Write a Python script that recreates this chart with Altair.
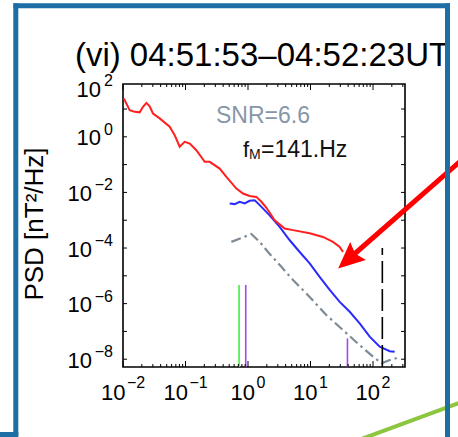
import altair as alt
import pandas as pd

# ---- spectra: frequency [Hz], power spectral density [nT^2/Hz] ----
red_freq = [0.0103, 0.0128, 0.0154, 0.0185, 0.0209, 0.0237, 0.0267, 0.0302, 0.0386,
            0.0558, 0.0671, 0.0807, 0.097, 0.117, 0.149, 0.203, 0.244, 0.352, 0.451,
            0.652, 0.832, 1.06, 1.36, 1.64, 1.97, 2.67, 3.86, 5.25, 9.7, 15.8, 22.9,
            29.3, 33.1]
red_psd = [24.0, 9.1, 7.9, 7.6, 12.0, 16.6, 12.6, 6.9, 4.6,
           2.3, 1.15, 0.44, 0.66, 0.575, 0.33, 0.126, 0.126, 0.072, 0.036,
           0.0138, 0.0091, 0.0074, 0.0069, 0.0046, 0.0028, 1.0e-3, 5.0e-4, 4.4e-4,
           3.4e-4, 2.5e-4, 1.66e-4, 1.1e-4, 7.2e-5]

blue_freq = [0.509, 0.612, 0.736, 0.885, 1.06, 1.28, 1.54, 2.22, 3.21, 4.65, 6.71,
             9.7, 14.0, 20.3, 29.3, 42.4, 61.2, 88.5, 128.0, 185.0, 222.0]
blue_psd = [4.0e-3, 3.8e-3, 4.6e-3, 4.0e-3, 5.0e-3, 5.2e-3, 3.5e-3, 1.5e-3, 5.8e-4,
            1.9e-4, 7.2e-5, 2.8e-5, 9.1e-6, 3.1e-6, 1.15e-6, 5.1e-7, 1.95e-7, 6.5e-8,
            2.8e-8, 1.95e-8, 1.86e-8]

gray_freq = [0.542, 0.832, 1.13, 1.54, 2.09, 3.42, 5.25, 9.7, 17.9, 33.1, 61.2,
             100.0, 138.0, 185.0, 240.0]
gray_psd = [1.66e-4, 2.4e-4, 3.2e-4, 1.66e-4, 7.2e-5, 2.1e-5, 7.1e-6, 1.74e-6,
            3.9e-7, 1.12e-7, 3.2e-8, 1.23e-8, 7.2e-9, 9.3e-9, 1.1e-8]

# ---- marker frequencies ----
f_m = 141.0                      # dashed marker, f_M
f_m_top = 1.0e-4
green_freq = [0.72]
green_top = [4.7e-6]
purple_freq = [0.92, 39.0]
purple_top = [4.7e-6, 5.6e-8]

# ---- axes ----
x_min, x_max = 0.01, 325.0
y_min, y_max = 10 ** -8.28, 10 ** 1.9
x_label_exp = [-2, -1, 0, 1, 2]
y_label_exp = [2, 0, -2, -4, -6, -8]
y_tick_exp = list(range(-8, 2))

title_text = "(vi) 04:51:53\u201304:52:23UT"
snr_text = "SNR=6.6"
y_title = "PSD [nT\u00b2/Hz]"

W, H = 282, 283
FONT = "Liberation Sans"

xs = alt.Scale(type="log", domain=[x_min, x_max], nice=False)
ys = alt.Scale(type="log", domain=[y_min, y_max], nice=False)


def X(field="f"):
    return alt.X(f"{field}:Q", scale=xs, axis=None)


def Y(field="p"):
    return alt.Y(f"{field}:Q", scale=ys, axis=None)


def curve(freq, psd, **style):
    df = pd.DataFrame({"f": freq, "p": psd, "i": range(len(freq))})
    return alt.Chart(df).mark_line(clip=True, **style).encode(x=X(), y=Y(), order="i:Q")


def one(text):
    return pd.DataFrame({"t": [text]})


layers = []

# spectra
layers.append(curve(gray_freq, gray_psd, color="#7e8a94", strokeWidth=2.2,
                    strokeDash=[10, 4, 2.5, 4]))
layers.append(curve(blue_freq, blue_psd, color="#2a2aff", strokeWidth=2))
layers.append(curve(red_freq, red_psd, color="#ff1f1f", strokeWidth=2))

# vertical markers
def verticals(freq, top, **style):
    df = pd.DataFrame({"f": freq, "p": top, "b": [y_min] * len(freq)})
    return alt.Chart(df).mark_rule(clip=True, **style).encode(x=X(), y=Y("b"), y2="p:Q")

layers.append(verticals(green_freq, green_top, color="#3ff03f", strokeWidth=1.6))
layers.append(verticals(purple_freq, purple_top, color="#a445f0", strokeWidth=1.6))
layers.append(verticals([f_m], [f_m_top], color="black", strokeWidth=1.6,
                        strokeDash=[22, 6]))

# inward ticks
maj = pd.DataFrame({"f": [10.0 ** k for k in x_label_exp]})
minor_vals = [m * 10.0 ** k for k in x_label_exp for m in range(2, 10) if m * 10.0 ** k <= x_max]
mnr = pd.DataFrame({"f": minor_vals})
for df, ln in ((maj, 6), (mnr, 3)):
    layers.append(alt.Chart(df).mark_rule(color="black", strokeWidth=1).encode(
        x=X(), y=alt.value(H), y2=alt.value(H - ln)))
    layers.append(alt.Chart(df).mark_rule(color="black", strokeWidth=1).encode(
        x=X(), y=alt.value(0), y2=alt.value(ln)))
yt = pd.DataFrame({"p": [10.0 ** k for k in y_tick_exp]})
layers.append(alt.Chart(yt).mark_rule(color="black", strokeWidth=1).encode(
    y=Y(), x=alt.value(0), x2=alt.value(4)))
layers.append(alt.Chart(yt).mark_rule(color="black", strokeWidth=1).encode(
    y=Y(), x=alt.value(W), x2=alt.value(W - 4)))

# tick labels: "10" with a raised exponent
def exp_str(k):
    return ("\u2212" if k < 0 else "") + str(abs(k))

xl = pd.DataFrame({"f": [10.0 ** k for k in x_label_exp],
                   "e": [exp_str(k) for k in x_label_exp],
                   "neg": [k < 0 for k in x_label_exp]})
for neg, base_dx, exp_dx in ((False, 7, 8.5), (True, 2.5, 4)):
    sub = xl[xl["neg"] == neg]
    layers.append(alt.Chart(sub).mark_text(text="10", font=FONT, fontSize=22, align="right",
                                           baseline="alphabetic", dx=base_dx).encode(
        x=X(), y=alt.value(H + 33)))
    layers.append(alt.Chart(sub).mark_text(font=FONT, fontSize=16, align="left",
                                           baseline="alphabetic", dx=exp_dx).encode(
        x=X(), y=alt.value(H + 21), text="e:N"))

yl = pd.DataFrame({"p": [10.0 ** k for k in y_label_exp],
                   "e": [exp_str(k) for k in y_label_exp],
                   "neg": [k < 0 for k in y_label_exp],
                   "top": [k > 1 for k in y_label_exp]})
# the label above the top edge sits pushed down against the frame
for top, shift in ((False, 0), (True, 7)):
    part = yl[yl["top"] == top]
    for neg, base_x in ((False, -22), (True, -31)):
        sub = part[part["neg"] == neg]
        if len(sub) == 0:
            continue
        layers.append(alt.Chart(sub).mark_text(text="10", font=FONT, fontSize=22, align="right",
                                               baseline="alphabetic", dy=8.5 + shift).encode(
            y=Y(), x=alt.value(base_x)))
    layers.append(alt.Chart(part).mark_text(font=FONT, fontSize=16, align="right",
                                            baseline="alphabetic", dy=-2 + shift).encode(
        y=Y(), x=alt.value(-10), text="e:N"))

# titles
layers.append(alt.Chart(one(title_text)).mark_text(font=FONT, fontSize=33, align="center",
                                                   baseline="alphabetic").encode(
    text="t:N", x=alt.value(139), y=alt.value(-18)))
layers.append(alt.Chart(one(y_title)).mark_text(font=FONT, fontSize=26, align="center",
                                                baseline="alphabetic", angle=270).encode(
    text="t:N", x=alt.value(-80), y=alt.value(140)))

# annotations inside the panel
layers.append(alt.Chart(one(snr_text)).mark_text(font=FONT, fontSize=23, align="left",
                                                 baseline="alphabetic", color="#8797a8").encode(
    text="t:N", x=alt.value(93), y=alt.value(39)))
layers.append(alt.Chart(one("f")).mark_text(font=FONT, fontSize=22, align="left",
                                            baseline="alphabetic", color="#111").encode(
    text="t:N", x=alt.value(120), y=alt.value(72.5)))
layers.append(alt.Chart(one("M")).mark_text(font=FONT, fontSize=14, align="left",
                                            baseline="alphabetic", color="#111").encode(
    text="t:N", x=alt.value(126), y=alt.value(75)))
layers.append(alt.Chart(one(f"={f_m:.0f}.Hz")).mark_text(font=FONT, fontSize=23, align="left",
                                                          baseline="alphabetic", color="#111").encode(
    text="t:N", x=alt.value(138), y=alt.value(72.5)))

# slide decorations: green stroke, red pointer arrow, blue box
layers.append(alt.Chart(one("g")).mark_rule(color="#8cc63e", strokeWidth=4).encode(
    x=alt.value(237), y=alt.value(355.5), x2=alt.value(347), y2=alt.value(315)))
layers.append(alt.Chart(one("a")).mark_rule(color="#ff0000", strokeWidth=5).encode(
    x=alt.value(342.5), y=alt.value(72.7), x2=alt.value(228), y2=alt.value(173)))
layers.append(alt.Chart(one("h")).mark_point(
    shape="M0,-1L0.9,1L0,0.7L-0.9,1Z", filled=True, opacity=1, color="#ff0000",
    size=700, angle=228.7).encode(x=alt.value(225.1), y=alt.value(175.7)))

BLUE = "#1c6ea4"
for x1, y1, x2, y2 in ((-109.5, -78.2, 327, -78.2),
                       (-107.2, -80.7, -107.2, 352),
                       (324.5, -80.7, 324.5, 360),
                       (-130, 350.5, -104.7, 350.5)):
    layers.append(alt.Chart(one("b")).mark_rule(color=BLUE, strokeWidth=5).encode(
        x=alt.value(x1), y=alt.value(y1), x2=alt.value(x2), y2=alt.value(y2)))

chart = alt.layer(*layers).properties(
    width=W, height=H,
    padding={"left": 123, "top": 84, "right": 458 - 123 - W, "bottom": 437 - 84 - H},
    autosize=alt.AutoSizeParams(type="none"),
    background="white",
).configure_view(stroke="black", strokeWidth=1.6)

chart.save("out.html", embed_options={"renderer": "svg", "actions": False})
